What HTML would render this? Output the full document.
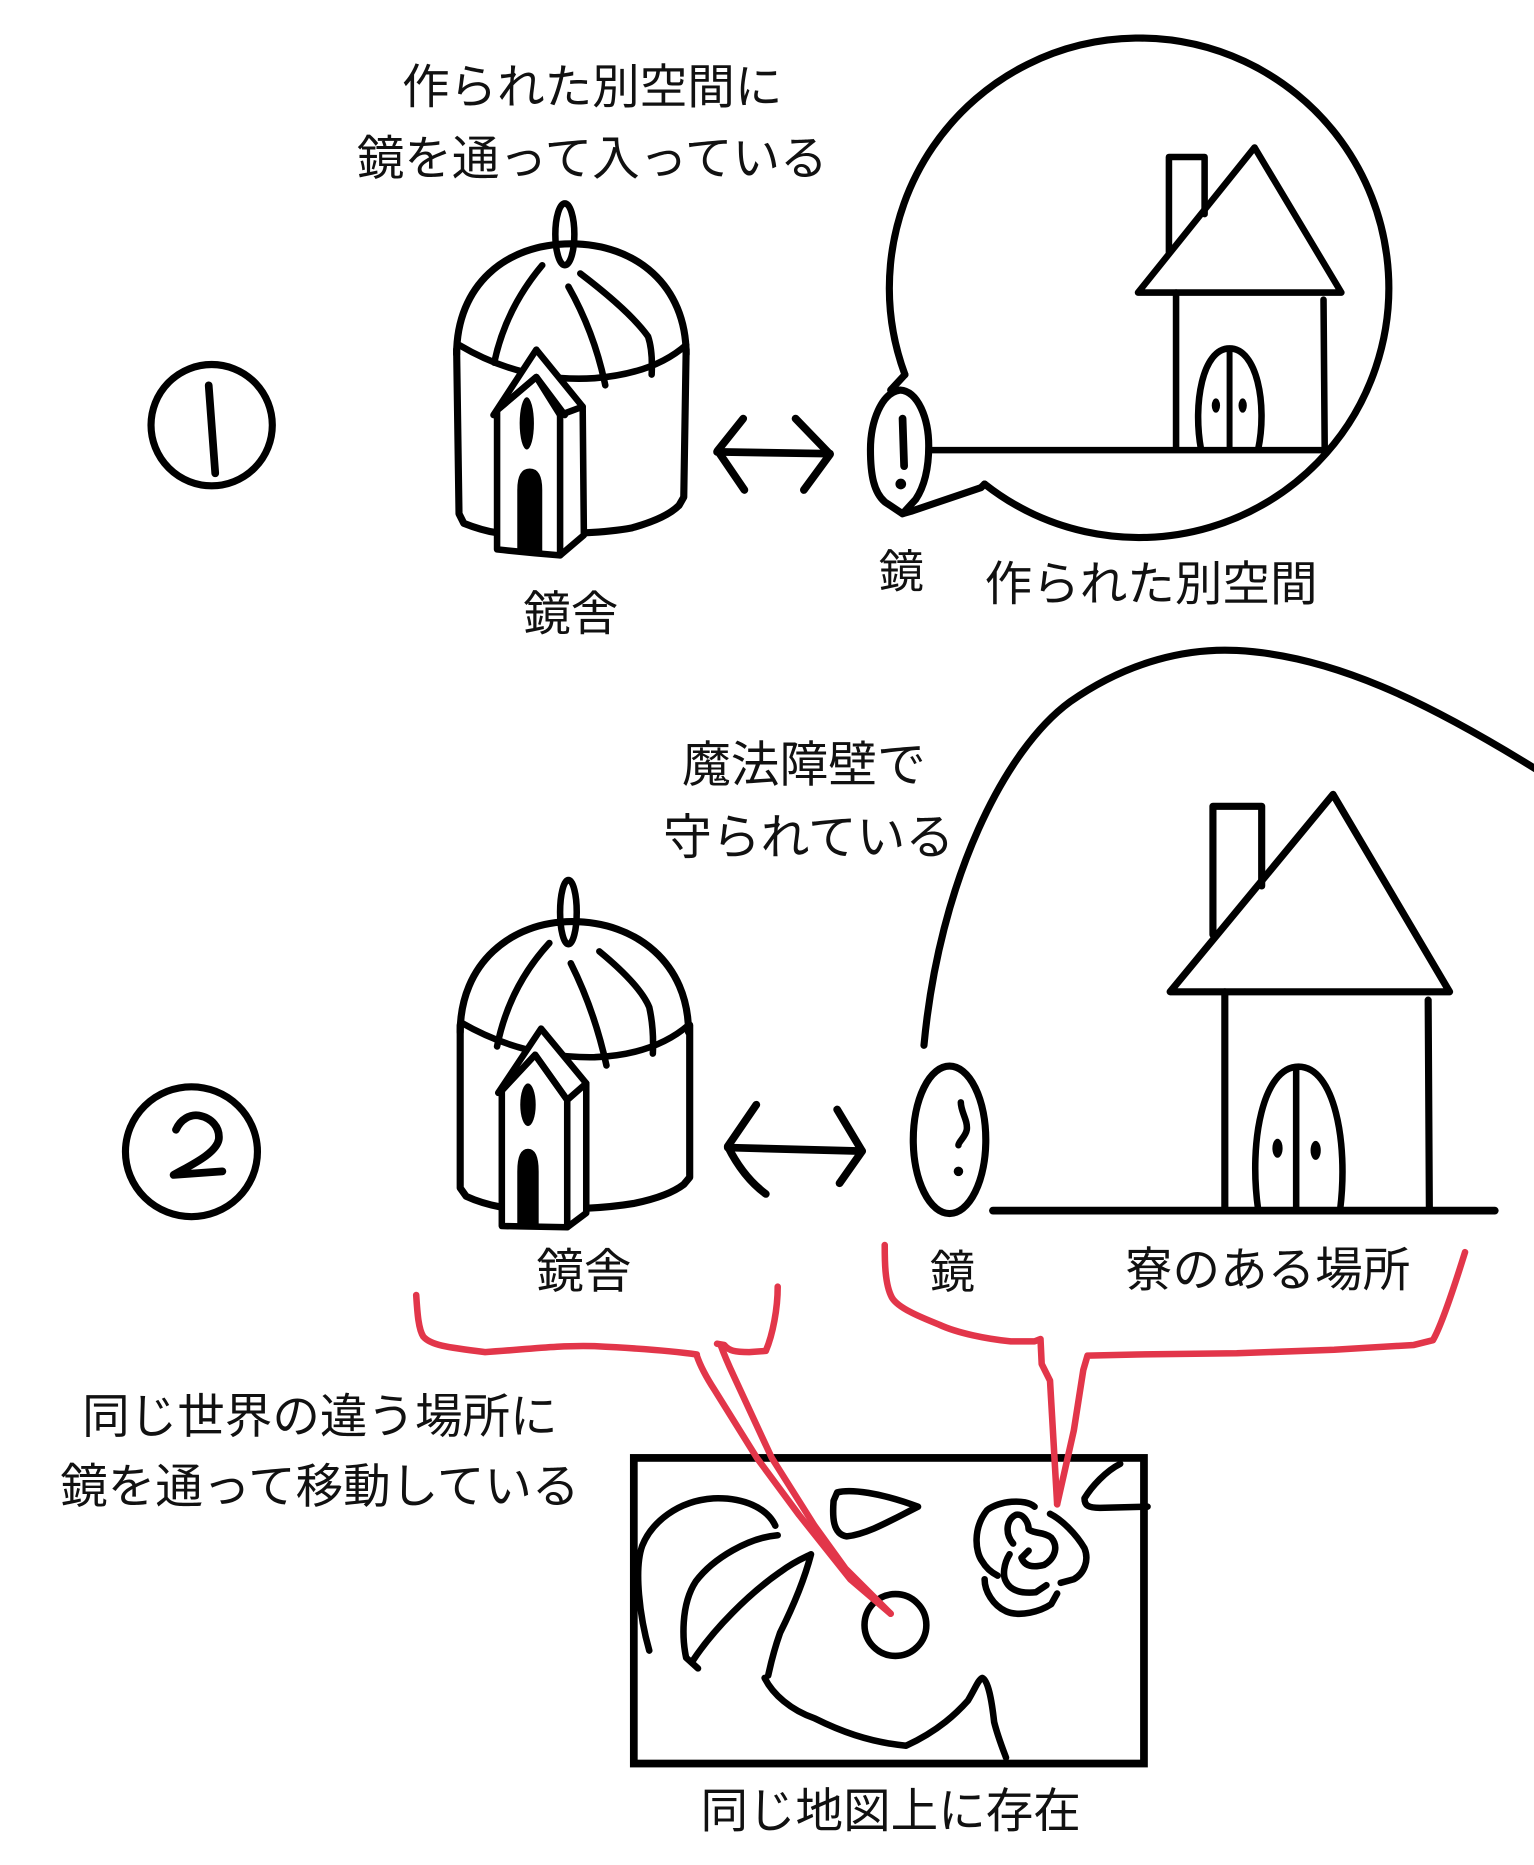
<!DOCTYPE html>
<html>
<head>
<meta charset="utf-8">
<style>
html,body{margin:0;padding:0;background:#fff;}
svg{display:block;}
text{font-family:"Liberation Sans","Noto Sans CJK JP",sans-serif;fill:#111;text-anchor:middle;}
</style>
</head>
<body>
<svg width="1534" height="1865" viewBox="0 0 1290 1568.3" xmlns="http://www.w3.org/2000/svg">
<rect x="0" y="0" width="1290" height="1568.3" fill="#fff"/>

<!-- ===== Section 1 texts ===== -->
<text x="498" y="87" font-size="40">作られた別空間に</text>
<text x="498" y="147" font-size="40">鏡を通って入っている</text>
<text x="480" y="530" font-size="40">鏡舎</text>
<text x="758" y="494" font-size="38">鏡</text>
<text x="968" y="505" font-size="40">作られた別空間</text>

<g fill="none" stroke="#000" stroke-linecap="round" stroke-linejoin="round">
  <!-- circle 1 -->
  <circle cx="178" cy="357.5" r="51" stroke-width="6"/>
  <path d="M175.5,324 L181,398" stroke-width="6.5"/>

  <!-- dome building 1 -->
  <ellipse cx="475" cy="197" rx="8" ry="26" stroke-width="5.5"/>
  <path d="M384,298 C384,240 425,205 480,205 C535,205 577,240 577,298" stroke-width="6"/>
  <path d="M386,290 Q440,322 500,318 Q550,314 577,290" stroke-width="5.5"/>
  <path d="M384,294 L386,432 L390,440 Q405,446 418,448" stroke-width="6"/>
  <path d="M492,448 Q515,447 531,444 Q560,436 571,425 L575,418 L577,294" stroke-width="6"/>
  <path d="M456,223 Q425,260 415.6,305" stroke-width="5.5"/>
  <path d="M478,241 Q500,280 509,324" stroke-width="5.5"/>
  <path d="M488,230 Q530,262 545,283 Q549,295 548,315" stroke-width="5.5"/>
  <!-- tower -->
  <path d="M415,349 L451,294 L490,342" stroke-width="5.5" fill="#fff"/>
  <path d="M418,345 L451,317 L471,349 L490,342 L491,450 L471,467 Q445,465 418,462 Z" stroke-width="5.5" fill="#fff"/>
  <path d="M471,349 L471,467" stroke-width="5.5"/>
  <path d="M418,345 L451,317 L475,349" stroke-width="5.5"/>
  <ellipse cx="443" cy="356" rx="6" ry="22" fill="#000" stroke="none"/>
  <path d="M435,463 L435,412 Q435,394 445.5,394 Q456,394 456,412 L456,464 Z" fill="#000" stroke="none"/>

  <!-- arrow 1 -->
  <path d="M603,380 L698,381.5" stroke-width="6.5"/>
  <path d="M625,352 L603.5,379 L626,412" stroke-width="6.5"/>
  <path d="M669,352 L698,382 L676,412" stroke-width="6.5"/>

  <!-- bubble circle -->
  <path d="M828,407 A210,210 0 1 0 761,315" stroke-width="6"/>
  <path d="M761,315 L749,328" stroke-width="6"/>
  <path d="M828,407 L825,410 L766,430 L759,432" stroke-width="6"/>
  <!-- mirror 1 -->
  <path d="M757,328 C741,330 732,355 732,378 C732,400 735,414 744,422 L759,432 L770,420 C778,408 781,392 781,375 C781,352 772,329 757,328 Z" stroke-width="6" fill="#fff"/>
  <path d="M759,352 L760.3,392" stroke-width="6.5"/>
  <circle cx="757.5" cy="407" r="4.5" fill="#000" stroke="none"/>

  <!-- ground 1 -->
  <path d="M782,378.5 L1114,378.5" stroke-width="5.5"/>
  <!-- house 1 -->
  <path d="M957,246 L1055,124 L1128,246 Z" stroke-width="5.5"/>
  <path d="M983,212 L983,132 L1013,132 L1013,180" stroke-width="5.5"/>
  <path d="M989,246 L989,378" stroke-width="5.5"/>
  <path d="M1113,252 L1114,378" stroke-width="5.5"/>
  <path d="M1010,378 C1003,340 1011,293 1034,293 C1057,293 1066,340 1058,378" stroke-width="5.5"/>
  <path d="M1034,294 L1034,378" stroke-width="5"/>
  <ellipse cx="1022.5" cy="341" rx="3.5" ry="6" fill="#000" stroke="none"/>
  <ellipse cx="1045" cy="341" rx="3.5" ry="6" fill="#000" stroke="none"/>
</g>

<!-- ===== Section 2 texts ===== -->
<text x="676" y="657" font-size="41">魔法障壁で</text>
<text x="680" y="718" font-size="41">守られている</text>
<text x="491" y="1083" font-size="40">鏡舎</text>
<text x="801" y="1083" font-size="38">鏡</text>
<text x="1066" y="1082" font-size="40">寮のある場所</text>

<g fill="none" stroke="#000" stroke-linecap="round" stroke-linejoin="round">
  <!-- barrier arc -->
  <path d="M777,879 C790,740 845,630 900,590 C950,555 1000,545 1040,547 C1120,551 1200,590 1292,647" stroke-width="6"/>

  <!-- circle 2 -->
  <ellipse cx="161" cy="968.5" rx="55.5" ry="54.6" stroke-width="6"/>
  <path d="M148,950 C152,941 160,937 167,938 C178,940 185,948 184,958 C182,970 160,980 146,988 L187,985" stroke-width="6.5"/>

  <!-- dome building 2 -->
  <ellipse cx="478" cy="767" rx="7" ry="27" stroke-width="5.5"/>
  <path d="M387,868 C387,810 430,775 481,775 C535,775 579,810 579,868" stroke-width="6"/>
  <path d="M388,860 Q440,890 500,889 Q550,887 579,862" stroke-width="5.5"/>
  <path d="M387,862 L387,999 L392,1006 Q405,1012 421,1015" stroke-width="6"/>
  <path d="M494,1016 Q515,1015 533,1012 Q562,1006 575,996 L580,990 L580,862" stroke-width="6"/>
  <path d="M462,793 Q428,830 418,880" stroke-width="5.5"/>
  <path d="M480,810 Q500,850 510,896" stroke-width="5.5"/>
  <path d="M504,800 Q538,828 546,847 Q550,865 549,886" stroke-width="5.5"/>
  <!-- tower 2 -->
  <path d="M419,919 L455,865 L493,911" stroke-width="5.5" fill="#fff"/>
  <path d="M422,917 L450,887 L477,925 L493,911 L493,1020 L477,1032 L422,1031 Z" stroke-width="5.5" fill="#fff"/>
  <path d="M477,925 L477,1032" stroke-width="5.5"/>
  <path d="M422,917 L450,887 L477,925" stroke-width="5.5"/>
  <ellipse cx="444" cy="929" rx="6.5" ry="18" fill="#000" stroke="none"/>
  <path d="M435,1030 L435,985 Q435,966 444,966 Q453,966 453,985 L453,1031 Z" fill="#000" stroke="none"/>

  <!-- arrow 2 -->
  <path d="M612,965 L725,968" stroke-width="6.5"/>
  <path d="M636,929 L612,964 Q625,990 644,1004" stroke-width="6.5"/>
  <path d="M704,933 L725,968 L706,995" stroke-width="6.5"/>

  <!-- mirror 2 -->
  <ellipse cx="798.5" cy="958.5" rx="30.5" ry="62" stroke-width="6"/>
  <path d="M808,927 C808,935 814,942 813,950 C812,956 806,960 806,963" stroke-width="5.5"/>
  <circle cx="806" cy="985" r="4" fill="#000" stroke="none"/>

  <!-- ground 2 -->
  <path d="M835,1018 L1257,1018" stroke-width="6.5"/>
  <!-- house 2 -->
  <path d="M984,834 L1121,668 L1219,834 Z" stroke-width="6"/>
  <path d="M1020,786 L1020,678 L1061,678 L1061,745" stroke-width="6"/>
  <path d="M1030,834 L1030,1017" stroke-width="6"/>
  <path d="M1201,841 L1202,1017" stroke-width="6"/>
  <path d="M1058,1017 C1050,960 1062,897 1092,897 C1122,897 1134,960 1127,1017" stroke-width="5.5"/>
  <path d="M1090,899 L1090,1017" stroke-width="5.5"/>
  <ellipse cx="1074.3" cy="965.6" rx="4.3" ry="8" fill="#000" stroke="none"/>
  <ellipse cx="1106.4" cy="967.4" rx="4.3" ry="8" fill="#000" stroke="none"/>
</g>

<!-- ===== bottom texts ===== -->
<text x="269" y="1205" font-size="40">同じ世界の違う場所に</text>
<text x="269" y="1264" font-size="40">鏡を通って移動している</text>
<text x="749" y="1537" font-size="40">同じ地図上に存在</text>

<!-- map -->
<g fill="none" stroke="#000" stroke-linecap="round" stroke-linejoin="round">
  <rect x="533" y="1226" width="429" height="257" stroke-width="6.5" stroke-linejoin="miter"/>
  <circle cx="753" cy="1366.5" r="26" stroke-width="5.5"/>
  <path d="M704,1255 C715,1252 740,1255 772,1267 C750,1278 730,1290 712,1292 C700,1290 700,1275 701,1262 Z" stroke-width="5.5"/>
  <path d="M546,1388 C538,1360 533,1320 540,1300 C548,1280 570,1262 600,1260 C625,1259 645,1268 652,1283" stroke-width="5.5"/>
  <path d="M654,1291 C630,1293 600,1310 585,1330 C572,1350 574,1380 577,1394 L587,1403" stroke-width="5.5"/>
  <path d="M583,1396 C600,1370 630,1340 656,1322 C668,1313 676,1310 682,1307 C676,1330 665,1355 656,1373 C650,1390 648,1400 646,1409" stroke-width="5.5"/>
  <path d="M643,1411 C650,1425 665,1438 685,1445 C705,1455 730,1465 762,1468 C790,1455 805,1440 814,1430 C820,1420 823,1412 826,1411 C831,1413 834,1430 836,1448 C839,1460 843,1470 846,1478" stroke-width="5.5"/>
  <path d="M942,1231 C930,1237 918,1250 912,1260 C912,1266 915,1268 925,1268 L965,1267" stroke-width="5.5"/>
  <path d="M870,1267 C862,1260 840,1262 830,1270 C818,1285 820,1305 826,1313 C830,1320 835,1323 839,1325" stroke-width="5.5"/>
  <path d="M883,1273 C893,1278 905,1290 912,1302 C916,1312 912,1323 903,1328 L892,1331" stroke-width="5.5"/>
  <path d="M828,1328 C828,1338 835,1350 846,1355 C858,1360 875,1355 884,1349 L889,1340" stroke-width="5.5"/>
  <path d="M852,1298 C845,1290 846,1278 854,1274 C860,1272 865,1280 865,1286 C870,1290 878,1288 884,1293 C890,1300 888,1310 878,1316 C870,1318 862,1318 859,1310 L865,1304" stroke-width="5.5"/>
  <path d="M849,1307 C844,1315 843,1325 846,1330 C850,1338 860,1340 871,1339 L880,1333" stroke-width="5.5"/>
</g>

<!-- red brackets -->
<g fill="none" stroke="#e2364a" stroke-width="5.5" stroke-linecap="round" stroke-linejoin="round">
  <path d="M350,1089 C351,1105 352,1118 356,1124 C362,1131 375,1133 408,1137 C440,1135 470,1131 500,1132 C540,1134 565,1136 586,1139"/>
  <path d="M586,1140 Q590,1152 601,1169 L636.5,1226 L672,1274 L715,1328 L749,1357"/>
  <path d="M606,1131 Q610,1142 617,1157 L649,1226 L685,1283 L711,1319 L749,1357"/>
  <path d="M603,1130 L609,1131 C613,1136 618,1137 630,1137 L644,1136 C650,1122 654,1100 654,1082"/>
  <path d="M744,1047 C744,1060 744,1080 750,1091 C755,1100 775,1108 790,1114 C805,1121 830,1126 850,1128 L870,1128 L875,1126 L876,1147 L883,1161 L889,1265"/>
  <path d="M889,1265 L903,1203 L911,1152 L914.5,1140 L956,1139 L1040,1138 L1122,1135 L1189,1131 L1205,1127 C1212,1115 1222,1085 1232,1053"/>
</g>
</svg>
</body>
</html>
